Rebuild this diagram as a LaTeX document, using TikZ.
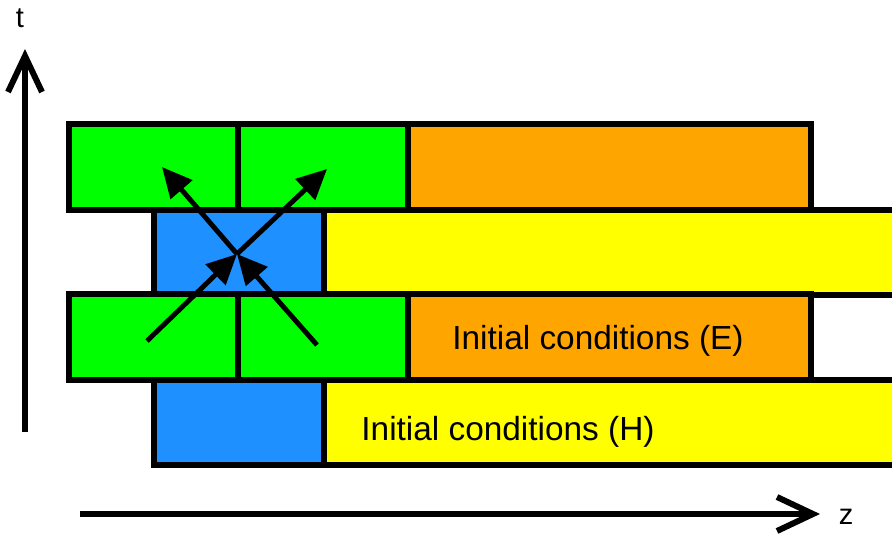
\documentclass[tikz,border=0pt]{standalone}
\usepackage{fontspec}
\setmainfont{Liberation Sans}
\usetikzlibrary{arrows.meta}
\definecolor{cellgreen}{RGB}{0,255,0}
\definecolor{cellblue}{RGB}{30,144,255}
\definecolor{cellorange}{RGB}{255,165,0}
\definecolor{cellyellow}{RGB}{255,255,0}

\begin{document}
\begin{tikzpicture}[x=0.02cm,y=-0.02cm,
    cell/.style={draw,line width=3.4pt},
    axis/.style={line width=3.4pt,-{Straight Barb[length=0.72cm,width=0.68cm]}},
    update/.style={line width=2.8pt,-{Triangle[length=0.6cm,width=0.56cm]}},
    lbl/.style={font=\fontsize{19}{23}\selectfont},
    axlbl/.style={font=\fontsize{16.5}{20}\selectfont}]
  \useasboundingbox (0,0) rectangle (892,536);
  \clip (0,0) rectangle (892,536);

  % H cells (staggered by half a cell)
  \draw[cell,fill=cellblue] (154,380) rectangle (324,465);
  \draw[cell,fill=cellyellow] (324,380) rectangle (920,465);
  \draw[cell,fill=cellblue] (154,210) rectangle (324,295);
  \draw[cell,fill=cellyellow] (324,210) rectangle (920,295);

  % E cells
  \draw[cell,fill=cellgreen] (69,294) rectangle (238,380);
  \draw[cell,fill=cellgreen] (238,294) rectangle (408,380);
  \draw[cell,fill=cellorange] (408,294) rectangle (811,380);
  \draw[cell,fill=cellgreen] (69,124) rectangle (238,210);
  \draw[cell,fill=cellgreen] (238,124) rectangle (408,210);
  \draw[cell,fill=cellorange] (408,124) rectangle (811,210);

  \node[lbl] (initE) at (598,341) {Initial conditions (E)};
  \node[lbl] (initH) at (508,432) {Initial conditions (H)};

  % update stencil
  \coordinate (mid) at (237,254);
  \coordinate (ein1) at (147,341);
  \coordinate (ein2) at (317,345);
  \coordinate (eout1) at (162,167);
  \coordinate (eout2) at (327,169);
  \draw[update] (ein1) -- (mid);
  \draw[update] (ein2) -- (mid);
  \draw[update] (mid) -- (eout1);
  \draw[update] (mid) -- (eout2);

  % axes
  \coordinate (t0) at (25,432);
  \coordinate (t1) at (25,49);
  \coordinate (z0) at (80,514);
  \coordinate (z1) at (820,514);
  \draw[axis] (t0) -- (t1);
  \draw[axis] (z0) -- (z1);
  \node[axlbl] (tlbl) at (20,18) {t};
  \node[axlbl] (zlbl) at (846,517) {z};
\end{tikzpicture}
\end{document}
